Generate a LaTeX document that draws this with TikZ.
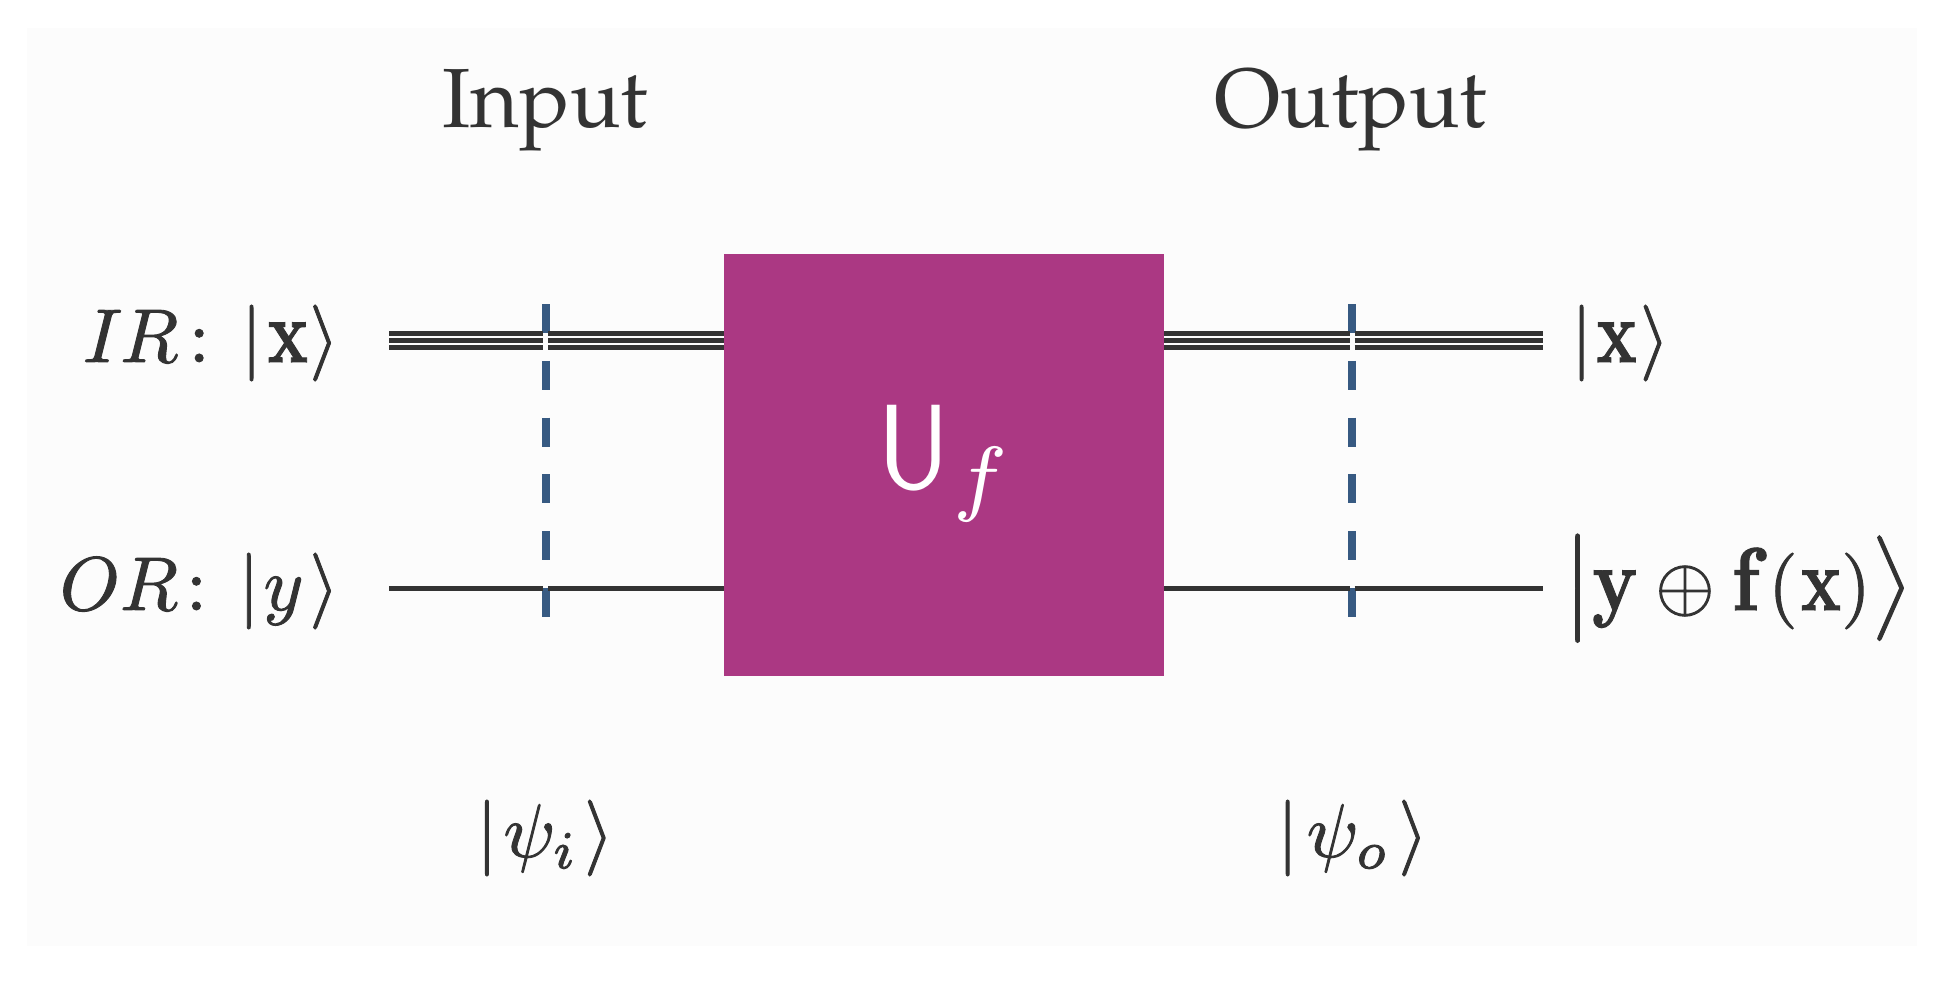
\documentclass[tikz,border=0pt]{standalone}
\usepackage{amsmath}
\usepackage{graphicx}
\definecolor{inkc}{HTML}{333333}
\definecolor{panelc}{HTML}{FCFCFC}
\definecolor{gatec}{HTML}{AB3883}
\definecolor{probec}{HTML}{375A82}
\newcommand{\bigbar}{\scalebox{1.15}{$\bigl|$}}
\newcommand{\bigket}{\scalebox{1.15}{$\bigr\rangle$}}
\newcommand{\bx}{\scalebox{.88}[1.17]{$\mathbf{x}$}}
\newcommand{\by}{\scalebox{.98}[1.17]{$\mathbf{y}$}}
\newcommand{\bff}{\scalebox{1.05}[1.17]{$\mathbf{f}$}}
\tikzset{
  lab/.style={text=inkc,inner sep=0pt,outer sep=0pt,scale=7.6,
    execute at begin node={\special{pdf:code 2 Tr 0.12 w}},
    execute at end node={\special{pdf:code 0 Tr}}},
  head/.style={text=inkc,inner sep=0pt,outer sep=0pt,scale=8.4,font=\usefont{OT1}{ppl}{m}{n}},
  gatelab/.style={text=white,inner sep=0pt,outer sep=0pt,scale=12},
  wirec/.style={draw=inkc,line width=5pt},
  probe/.style={draw=probec,line width=8pt,dash pattern=on 29pt off 27.8pt},
}
\begin{document}
\begin{tikzpicture}[x=1pt,y=-1pt]
\useasboundingbox (0,0) rectangle (1943,995);
\fill[white] (0,0) rectangle (1943,995);
\fill[panelc] (27,28) rectangle (1917,946);
\node[fill=gatec,minimum width=440pt,minimum height=422pt,inner sep=0pt,outer sep=0pt] (gate) at (944,465) {};
\coordinate (pa) at (546,304); \coordinate (pb) at (546,617);
\coordinate (qa) at (1352,304); \coordinate (qb) at (1352,617);
\draw[probe] (pa) -- (pb);
\draw[probe] (qa) -- (qb);
\coordinate (i1) at (389,333.5); \coordinate (i2) at (389,340.5); \coordinate (i3) at (389,347.5);
\coordinate (o1) at (1543,333.5); \coordinate (o2) at (1543,340.5); \coordinate (o3) at (1543,347.5);
\coordinate (iy) at (389,588.5); \coordinate (oy) at (1543,588.5);
\foreach \n in {i1,i2,i3,iy} {
  \draw[wirec] (\n) -- ([xshift=-3pt]pa |- \n);
  \draw[wirec] ([xshift=2pt]pa |- \n) -- (\n -| gate.west);
}
\foreach \n in {o1,o2,o3,oy} {
  \draw[wirec] (\n -| gate.east) -- ([xshift=-2.5pt]qa |- \n);
  \draw[wirec] ([xshift=2.5pt]qa |- \n) -- (\n);
}
\node[head,anchor=base] (inp) at (545.5,128) {Input};
\node[head,anchor=base] (out) at (1351,128) {Output};
\node[lab,anchor=base east] (ir) at (339,362) {$I\mkern-.5mu R\mkern-2.6mu:\mkern2.4mu|\mkern1.3mu\text{\bx}\mkern.3mu\rangle$};
\node[lab,anchor=base east] (or) at (339,610) {$OR\mkern-3.2mu:\mkern2.4mu|\mkern1.0mu y\mkern1.4mu\rangle$};
\node[lab,anchor=base west] (rx) at (1571,362) {$|\mkern1mu\text{\bx}\mkern.7mu\rangle$};
\node[lab,anchor=base west] (ry) at (1563,610) {\bigbar$\text{\by}\oplus\text{\bff}(\mkern.7mu\text{\bx}\mkern.0mu)$\bigket};
\node[lab,anchor=base] (pi) at (545,857) {$|\mkern1.4mu\psi_i\mkern1.4mu\rangle$};
\node[lab,anchor=base] (po) at (1352.5,857) {$|\mkern2mu\psi_o\mkern2mu\rangle$};
\node[gatelab,anchor=base west] (uf) at (877,488) {\scalebox{.88}[1]{$\mathsf{U}$}$\mkern.5mu_f$};
\end{tikzpicture}
\end{document}
